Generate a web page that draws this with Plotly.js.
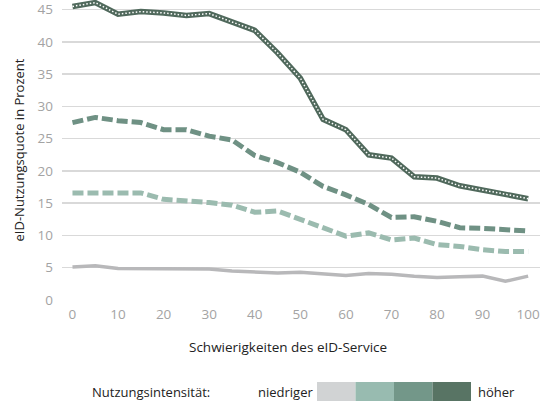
<!DOCTYPE html>
<html>
<head>
<meta charset="utf-8">
<script src="https://cdn.plot.ly/plotly-3.0.1.min.js"></script>
<style>
  html, body { margin: 0; padding: 0; background: #fff; }
  #chart { width: 540px; height: 401px; }
</style>
</head>
<body>
<div id="chart"></div>
<script>
// Schwierigkeiten des eID-Service (x) vs. eID-Nutzungsquote (y), je Nutzungsintensität
const schwierigkeit = [0, 5, 10, 15, 20, 25, 30, 35, 40, 45, 50, 55, 60, 65, 70, 75, 80, 85, 90, 95, 100];

const niedrig   = [5.1, 5.3, 4.9, 4.9, 4.9, 4.8, 4.8, 4.5, 4.3, 4.2, 4.3, 4.0, 3.8, 4.1, 4.0, 3.7, 3.5, 3.6, 3.7, 2.9, 3.7];
const mittel1   = [16.6, 16.6, 16.6, 16.6, 15.6, 15.4, 15.1, 14.7, 13.6, 13.8, 12.5, 11.1, 9.9, 10.4, 9.3, 9.6, 8.6, 8.3, 7.8, 7.5, 7.5];
const mittel2   = [27.5, 28.3, 27.8, 27.5, 26.4, 26.4, 25.4, 24.8, 22.4, 21.3, 19.8, 17.6, 16.3, 14.8, 12.8, 12.9, 12.2, 11.2, 11.1, 10.9, 10.7];
const hoch      = [45.5, 46.1, 44.3, 44.7, 44.5, 44.1, 44.4, 43.1, 41.8, 38.3, 34.4, 28.0, 26.4, 22.5, 22.0, 19.1, 18.9, 17.7, 17.1, 16.4, 15.7];

const legendColors = ['#d1d3d4', '#98bbb0', '#739789', '#587464'];

const FONT = 'Open Sans, sans-serif';

const data = [
  {
    x: schwierigkeit, y: niedrig, mode: 'lines', type: 'scatter',
    line: { color: '#b8b8ba', width: 3.5 },
    hoverinfo: 'skip',
  },
  {
    x: schwierigkeit, y: mittel1, mode: 'lines', type: 'scatter',
    line: { color: '#9bbbaf', width: 5, dash: '11px,4px' },
    hoverinfo: 'skip',
  },
  {
    x: schwierigkeit, y: mittel2, mode: 'lines', type: 'scatter',
    line: { color: '#6f9184', width: 5, dash: '11px,4px' },
    hoverinfo: 'skip',
  },
  // thick dark line with a white dotted core
  {
    x: schwierigkeit, y: hoch, mode: 'lines', type: 'scatter',
    line: { color: '#50695c', width: 5.5 },
    hoverinfo: 'skip',
  },
  {
    x: schwierigkeit, y: hoch, mode: 'lines', type: 'scatter',
    line: { color: '#ffffff', width: 1.5, dash: '1.5px,2px' },
    hoverinfo: 'skip',
  },
];

// pixel helpers for the hand drawn legend below the plot
const W = 540, H = 401;
const margin = { l: 62, r: 0, t: 0, b: 101 };
const plotW = W - margin.l - margin.r;
const plotH = H - margin.t - margin.b;
const px = (x) => (x - margin.l) / plotW;
const py = (y) => (H - margin.b - y) / plotH;

const boxW = 38.5;
const shapes = legendColors.map((c, i) => ({
  type: 'rect', xref: 'paper', yref: 'paper',
  x0: px(317 + i * boxW), x1: px(317 + (i + 1) * boxW),
  y0: py(402), y1: py(382),
  fillcolor: c, line: { width: 0 },
}));

const annotations = [
  { text: 'Schwierigkeiten des eID-Service', x: px(288), y: py(347) },
  { text: 'Nutzungsintensität:', x: px(150.5), y: py(392) },
  { text: 'niedriger', x: px(285), y: py(392) },
  { text: 'höher', x: px(496), y: py(392) },
].map(a => Object.assign({
  xref: 'paper', yref: 'paper', showarrow: false,
  xanchor: 'center', yanchor: 'middle',
  font: { family: FONT, size: 13, color: '#222' },
}, a));
annotations[0].font = { family: FONT, size: 13.5, color: '#222' };

const layout = {
  width: W, height: H,
  margin,
  showlegend: false,
  paper_bgcolor: '#fff', plot_bgcolor: '#fff',
  font: { family: FONT },
  xaxis: {
    range: [-2.3, 102.6],
    tickvals: [0, 10, 20, 30, 40, 50, 60, 70, 80, 90, 100],
    showgrid: false, zeroline: false, showline: false,
    tickfont: { family: FONT, size: 13.5, color: '#a3a3a3' },
    ticks: '', ticklabelstandoff: 4,
    ticklabeloverflow: 'allow',
  },
  yaxis: {
    range: [0, 46.5],
    tickvals: [0, 5, 10, 15, 20, 25, 30, 35, 40, 45],
    showgrid: true, gridcolor: '#d9d9d9', gridwidth: 1.5,
    zeroline: false, showline: false,
    tickfont: { family: FONT, size: 13.5, color: '#a3a3a3' },
    ticks: '', ticklabelstandoff: 8,
    title: { text: 'eID-Nutzungsquote in Prozent', font: { family: FONT, size: 13, color: '#222' }, standoff: 9 },
  },
  shapes,
  annotations,
};

Plotly.newPlot('chart', data, layout, { displayModeBar: false, staticPlot: true });
</script>
</body>
</html>
